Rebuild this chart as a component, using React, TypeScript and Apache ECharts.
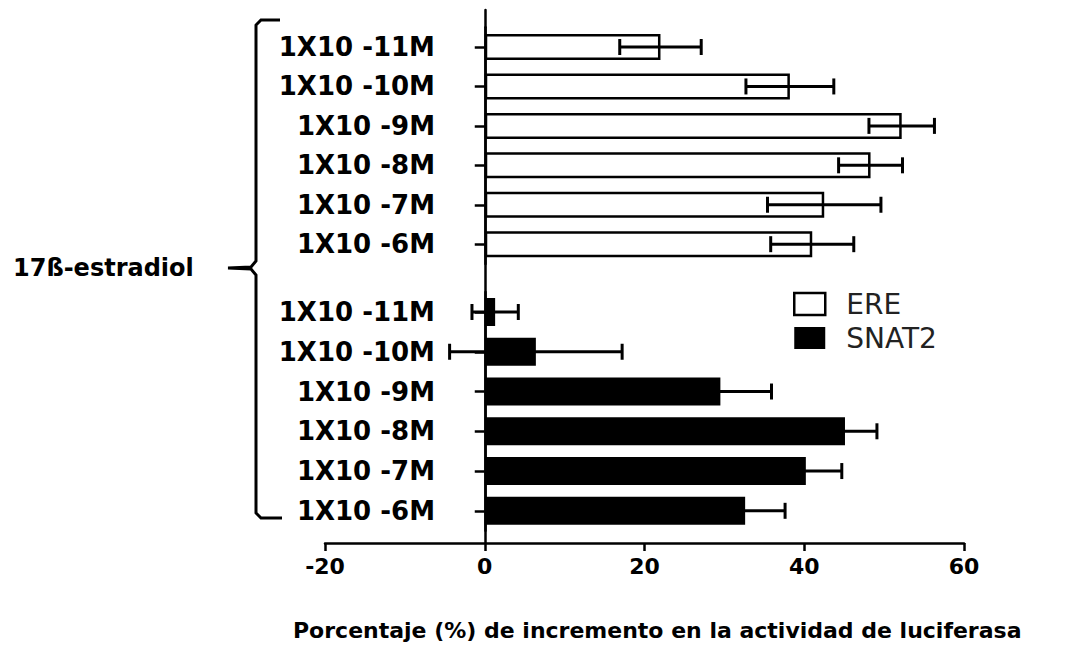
import React, { useEffect, useRef } from "react";
import * as echarts from "echarts";

const categories = ["1X10 -11M", "1X10 -10M", "1X10 -9M", "1X10 -8M", "1X10 -7M", "1X10 -6M"];
const ereValues = [22.0, 38.2, 52.2, 48.3, 42.5, 41.0];
const ereErrors = [5.1, 5.5, 4.1, 4.0, 7.1, 5.2];
const snatValues = [1.3, 6.4, 29.5, 45.1, 40.2, 32.6];
const snatErrors = [2.9, 10.8, 6.4, 4.0, 4.5, 5.0];
const xMin = -20;
const xMax = 60;
const xInterval = 20;
const seriesNames = ["ERE", "SNAT2"];
const groupLabel = "17ß-estradiol";
const xTitle = "Porcentaje (%) de incremento en la actividad de luciferasa";

const FONT = "DejaVu Sans";

function errorRender(params: any, api: any) {
  const idx = api.value(0);
  const v = api.value(1);
  const e = api.value(2);
  const lo = api.coord([v - e, idx]);
  const hi = api.coord([v + e, idx]);
  const cap = 8;
  const style = { stroke: "#000", lineWidth: 3 };
  return {
    type: "group",
    children: [
      { type: "line", shape: { x1: lo[0], y1: lo[1], x2: hi[0], y2: hi[1] }, style },
      { type: "line", shape: { x1: lo[0], y1: lo[1] - cap, x2: lo[0], y2: lo[1] + cap }, style },
      { type: "line", shape: { x1: hi[0], y1: hi[1] - cap, x2: hi[0], y2: hi[1] + cap }, style },
    ],
  };
}

export default function App() {
  const ref = useRef<HTMLDivElement>(null);
  useEffect(() => {
    if (!ref.current) return;
    const chart = echarts.init(ref.current, undefined, { renderer: "svg" });
    const hiddenX = (gi: number) => ({
      type: "value",
      gridIndex: gi,
      min: xMin,
      max: xMax,
      interval: xInterval,
      show: false,
    });
    const catY = (gi: number) => ({
      type: "category",
      gridIndex: gi,
      data: categories,
      inverse: true,
      axisLine: { show: true, onZero: true, lineStyle: { color: "#000", width: 2.5 } },
      axisTick: { show: true, alignWithLabel: true, length: 10, lineStyle: { color: "#000", width: 2.5 } },
      axisLabel: {
        margin: -110,
        color: "#000",
        fontFamily: FONT,
        fontWeight: "bold",
        fontSize: 26,
      },
      splitLine: { show: false },
    });
    chart.setOption({
      animation: false,
      backgroundColor: "#fff",
      title: {
        text: xTitle,
        left: 293,
        top: 619,
        padding: 0,
        textStyle: { fontFamily: FONT, fontWeight: "bold", fontSize: 22, color: "#000" },
      },
      legend: {
        orient: "vertical",
        left: 793,
        top: 290,
        itemWidth: 31,
        itemHeight: 22,
        itemGap: 6,
        padding: 0,
        textStyle: { fontFamily: FONT, fontSize: 28, color: "#222", lineHeight: 28, padding: [0, 0, 0, 16] },
        data: [
          { name: seriesNames[0], icon: "rect", itemStyle: { color: "#fff", borderColor: "#000", borderWidth: 2.5 } },
          { name: seriesNames[1], icon: "rect", itemStyle: { color: "#000", borderColor: "#000", borderWidth: 0 } },
        ],
      },
      grid: [
        { left: 325, right: 112, top: 27.3, height: 236.6 },
        { left: 325, right: 112, top: 292.1, height: 238.6 },
        { left: 325, right: 112, top: 10, bottom: 109 },
      ],
      xAxis: [
        hiddenX(0),
        hiddenX(1),
        {
          type: "value",
          gridIndex: 2,
          min: xMin,
          max: xMax,
          interval: xInterval,
          axisLine: { show: true, onZero: false, lineStyle: { color: "#000", width: 2.5 } },
          axisTick: { show: true, length: 8, lineStyle: { color: "#000", width: 2.5 } },
          axisLabel: { margin: 12, color: "#000", fontFamily: FONT, fontWeight: "bold", fontSize: 22 },
          splitLine: { show: false },
        },
      ],
      yAxis: [
        catY(0),
        catY(1),
        {
          type: "value",
          gridIndex: 2,
          min: 0,
          max: 1,
          axisLine: { show: true, onZero: true, lineStyle: { color: "#000", width: 2.5 } },
          axisTick: { show: false },
          axisLabel: { show: false },
          splitLine: { show: false },
        },
      ],
      graphic: [
        {
          type: "polyline",
          shape: {
            points: [
              [280, 20], [261, 20], [256, 25], [256, 261], [251, 267], [228, 268],
              [251, 269], [256, 275], [256, 513], [261, 518], [282, 518],
            ],
          },
          style: { stroke: "#000", lineWidth: 3, fill: "none" },
        },
        {
          type: "text",
          x: 13,
          y: 268,
          style: {
            text: groupLabel,
            fontFamily: FONT,
            fontWeight: "bold",
            fontSize: 24,
            fill: "#000",
            verticalAlign: "middle",
          },
        },
      ],
      series: [
        {
          name: seriesNames[0],
          type: "bar",
          xAxisIndex: 0,
          yAxisIndex: 0,
          barWidth: 26,
          data: ereValues,
          itemStyle: { color: "#fff", borderColor: "#000", borderWidth: 2.5 },
        },
        {
          name: seriesNames[1],
          type: "bar",
          xAxisIndex: 1,
          yAxisIndex: 1,
          barWidth: 28,
          data: snatValues,
          itemStyle: { color: "#000" },
        },
        {
          name: "ERE error",
          type: "custom",
          xAxisIndex: 0,
          yAxisIndex: 0,
          renderItem: errorRender,
          encode: { x: 1, y: 0 },
          data: ereValues.map((v, i) => [i, v, ereErrors[i]]),
          z: 10,
        },
        {
          name: "SNAT2 error",
          type: "custom",
          xAxisIndex: 1,
          yAxisIndex: 1,
          renderItem: errorRender,
          encode: { x: 1, y: 0 },
          data: snatValues.map((v, i) => [i, v, snatErrors[i]]),
          z: 10,
        },
      ],
    });
    return () => chart.dispose();
  }, []);
  return (
    <div
      ref={ref}
      style={{ position: "fixed", left: 0, top: 0, width: 1076, height: 652, background: "#fff" }}
    />
  );
}
